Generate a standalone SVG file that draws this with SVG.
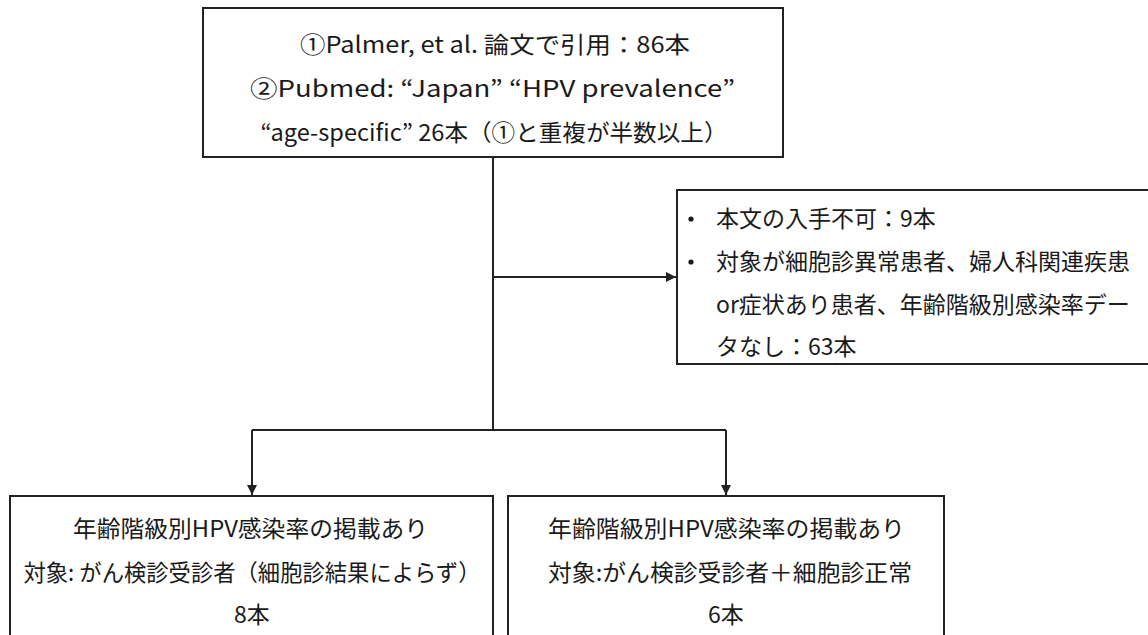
<svg xmlns="http://www.w3.org/2000/svg" width="1148" height="635" viewBox="0 0 1148 635">
<defs>
<style>
.box{fill:#fff;stroke:#222;stroke-width:2}
.t{font-family:"Noto Sans CJK JP","Noto Sans",sans-serif;font-size:23px;fill:#1a1a1a}
.c{text-anchor:middle}
.ln{fill:none;stroke:#222;stroke-width:2}
</style>
<marker id="ah" viewBox="0 0 10 10" refX="10" refY="5" markerWidth="5" markerHeight="5" orient="auto" markerUnits="strokeWidth">
<path d="M0,0 L10,5 L0,10 Z" fill="#222"/>
</marker>
</defs>
<rect width="1148" height="635" fill="#fff"/>
<g id="connectors">
<path class="ln" d="M493,157 V430"/>
<path class="ln" d="M493,277 H676" marker-end="url(#ah)"/>
<path class="ln" d="M252,430 H726"/>
<path class="ln" d="M252,430 V495" marker-end="url(#ah)"/>
<path class="ln" d="M726,430 V495" marker-end="url(#ah)"/>
</g>
<g id="top">
<rect class="box" x="203" y="8" width="580" height="149"/>
<text class="t c" x="495" y="53" textLength="390" lengthAdjust="spacingAndGlyphs">①Palmer, et al. 論文で引用：86本</text>
<text class="t c" x="492.5" y="97" textLength="485" lengthAdjust="spacingAndGlyphs">②Pubmed: “Japan” “HPV prevalence”</text>
<text class="t c" x="494" y="141" textLength="467" lengthAdjust="spacingAndGlyphs">“age-specific” 26本（①と重複が半数以上）</text>
</g>
<g id="excluded">
<rect class="box" x="677" y="190" width="475" height="174"/>
<circle cx="691" cy="219" r="2.6" fill="#1a1a1a"/>
<circle cx="691" cy="262" r="2.6" fill="#1a1a1a"/>
<text class="t" x="716" y="227">本文の入手不可：9本</text>
<text class="t" x="716" y="270">対象が細胞診異常患者、婦人科関連疾患</text>
<text class="t" x="716" y="313">or症状あり患者、年齢階級別感染率デー</text>
<text class="t" x="716" y="355">タなし：63本</text>
</g>
<g id="left">
<rect class="box" x="10" y="496" width="483" height="160"/>
<text class="t c" x="250.5" y="537" textLength="355" lengthAdjust="spacingAndGlyphs">年齢階級別HPV感染率の掲載あり</text>
<text class="t c" x="252" y="581" textLength="457" lengthAdjust="spacingAndGlyphs">対象: がん検診受診者（細胞診結果によらず）</text>
<text class="t c" x="252" y="623">8本</text>
</g>
<g id="right">
<rect class="box" x="508" y="496" width="436" height="160"/>
<text class="t c" x="726.5" y="537" textLength="357" lengthAdjust="spacingAndGlyphs">年齢階級別HPV感染率の掲載あり</text>
<text class="t c" x="730" y="581" textLength="364" lengthAdjust="spacingAndGlyphs">対象:がん検診受診者＋細胞診正常</text>
<text class="t c" x="726" y="623">6本</text>
</g>
</svg>
